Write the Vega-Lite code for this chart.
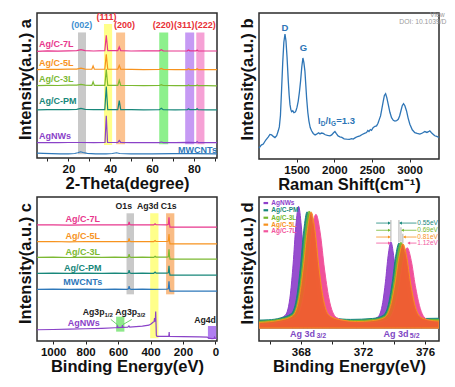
{
"$schema":"https://vega.github.io/schema/vega-lite/v6.json",
"padding":{"left":16,"top":11,"right":0,"bottom":0},
"config":{
 "font":"Liberation Sans",
 "view":{"stroke":"#2b2b2b","strokeWidth":1.5},
 "axis":{"labelFont":"Liberation Sans","labelFontWeight":"bold","labelColor":"#111","titleFont":"Liberation Sans","titleFontWeight":"bold","titleFontSize":16.5,"titleColor":"#111","grid":false,"domain":false,"tickColor":"#222"},
 "axisX":{"labelFontSize":11.5,"labelPadding":2,"titlePadding":1,"tickSize":3,"labelFlush":false,"labelOverlap":false,"format":"d"},
 "axisY":{"labels":false,"ticks":false,"titleY":66,"titlePadding":4},
 "text":{"font":"Liberation Sans","fontWeight":"bold","fontSize":9.5,"baseline":"middle"},
 "legend":{"disable":true}
},
"datasets":{
"a_bands":[
{"s":"b002","x":24.6,"x2":28.4,"y":2.6,"y2":86.6},
{"s":"b111","x":37.0,"x2":40.9,"y":9.0,"y2":92.4},
{"s":"b200","x":42.8,"x2":47.1,"y":9.5,"y2":86.6},
{"s":"b220","x":63.4,"x2":67.7,"y":9.5,"y2":86.6},
{"s":"b311","x":75.8,"x2":80.1,"y":9.5,"y2":86.6},
{"s":"b222","x":81.1,"x2":85.0,"y":9.5,"y2":86.6}],
"a_lines":[
{"s":"7L","x":5,"y":73.6},{"s":"7L","x":10,"y":73.9},{"s":"7L","x":15,"y":73.7},{"s":"7L","x":20,"y":73.9},{"s":"7L","x":24,"y":74.0},{"s":"7L","x":26,"y":74.7},{"s":"7L","x":28,"y":74.0},{"s":"7L","x":32,"y":73.8},{"s":"7L","x":37.4,"y":74.0},{"s":"7L","x":38.1,"y":84.7},{"s":"7L","x":38.8,"y":74.0},{"s":"7L","x":43.6,"y":74.0},{"s":"7L","x":44.3,"y":76.6},{"s":"7L","x":45,"y":74.0},{"s":"7L","x":50,"y":73.8},{"s":"7L","x":56,"y":73.9},{"s":"7L","x":63.5,"y":73.9},{"s":"7L","x":64.4,"y":74.7},{"s":"7L","x":65.3,"y":73.9},{"s":"7L","x":71,"y":73.8},{"s":"7L","x":76.8,"y":73.9},{"s":"7L","x":77.4,"y":74.5},{"s":"7L","x":78,"y":73.9},{"s":"7L","x":81,"y":73.9},{"s":"7L","x":81.5,"y":74.5},{"s":"7L","x":82,"y":73.9},{"s":"7L","x":86,"y":73.8},{"s":"7L","x":91,"y":73.8},
{"s":"5L","x":5,"y":61.0},{"s":"5L","x":10,"y":61.2},{"s":"5L","x":15,"y":61.1},{"s":"5L","x":20,"y":61.3},{"s":"5L","x":24,"y":61.3},{"s":"5L","x":26,"y":62.0},{"s":"5L","x":28,"y":61.3},{"s":"5L","x":31.2,"y":61.2},{"s":"5L","x":31.8,"y":63.5},{"s":"5L","x":32.4,"y":61.2},{"s":"5L","x":37.4,"y":61.2},{"s":"5L","x":38.1,"y":71.5},{"s":"5L","x":38.8,"y":61.2},{"s":"5L","x":43.6,"y":61.2},{"s":"5L","x":44.3,"y":63.9},{"s":"5L","x":45,"y":61.2},{"s":"5L","x":50,"y":61.1},{"s":"5L","x":56,"y":61.0},{"s":"5L","x":63.5,"y":61.1},{"s":"5L","x":64.4,"y":61.7},{"s":"5L","x":65.3,"y":61.1},{"s":"5L","x":71,"y":61.0},{"s":"5L","x":76.8,"y":61.0},{"s":"5L","x":77.4,"y":61.6},{"s":"5L","x":78,"y":61.0},{"s":"5L","x":81,"y":61.0},{"s":"5L","x":81.5,"y":61.6},{"s":"5L","x":82,"y":61.0},{"s":"5L","x":86,"y":61.0},{"s":"5L","x":91,"y":60.9},
{"s":"3L","x":5,"y":49.9},{"s":"3L","x":10,"y":50.1},{"s":"3L","x":15,"y":50.0},{"s":"3L","x":20,"y":50.2},{"s":"3L","x":24,"y":50.2},{"s":"3L","x":26,"y":50.8},{"s":"3L","x":28,"y":50.2},{"s":"3L","x":31.2,"y":50.1},{"s":"3L","x":31.8,"y":52.5},{"s":"3L","x":32.4,"y":50.1},{"s":"3L","x":37.4,"y":50.1},{"s":"3L","x":38.1,"y":61.1},{"s":"3L","x":38.8,"y":50.1},{"s":"3L","x":43.6,"y":50.1},{"s":"3L","x":44.3,"y":53.5},{"s":"3L","x":45,"y":50.1},{"s":"3L","x":50,"y":50.0},{"s":"3L","x":56,"y":49.9},{"s":"3L","x":63.5,"y":50.0},{"s":"3L","x":64.4,"y":50.6},{"s":"3L","x":65.3,"y":50.0},{"s":"3L","x":71,"y":49.9},{"s":"3L","x":76.8,"y":49.9},{"s":"3L","x":77.4,"y":50.4},{"s":"3L","x":78,"y":49.9},{"s":"3L","x":81,"y":49.9},{"s":"3L","x":81.5,"y":50.4},{"s":"3L","x":82,"y":49.9},{"s":"3L","x":86,"y":49.9},{"s":"3L","x":91,"y":49.8},
{"s":"PM","x":5,"y":33.2},{"s":"PM","x":10,"y":33.4},{"s":"PM","x":15,"y":33.3},{"s":"PM","x":20,"y":33.4},{"s":"PM","x":24,"y":33.5},{"s":"PM","x":26,"y":34.2},{"s":"PM","x":28,"y":33.5},{"s":"PM","x":32,"y":33.3},{"s":"PM","x":37.4,"y":33.4},{"s":"PM","x":38.1,"y":49.3},{"s":"PM","x":38.8,"y":33.4},{"s":"PM","x":43.6,"y":33.4},{"s":"PM","x":44.3,"y":39.6},{"s":"PM","x":45,"y":33.4},{"s":"PM","x":50,"y":33.3},{"s":"PM","x":56,"y":33.2},{"s":"PM","x":63.5,"y":33.3},{"s":"PM","x":64.4,"y":34.3},{"s":"PM","x":65.3,"y":33.3},{"s":"PM","x":71,"y":33.2},{"s":"PM","x":76.8,"y":33.3},{"s":"PM","x":77.4,"y":34.0},{"s":"PM","x":78,"y":33.3},{"s":"PM","x":81,"y":33.3},{"s":"PM","x":81.5,"y":34.0},{"s":"PM","x":82,"y":33.3},{"s":"PM","x":86,"y":33.2},{"s":"PM","x":91,"y":33.2},
{"s":"AgNWs","x":5,"y":10.6},{"s":"AgNWs","x":10,"y":10.7},{"s":"AgNWs","x":15,"y":10.6},{"s":"AgNWs","x":20,"y":10.7},{"s":"AgNWs","x":26,"y":10.7},{"s":"AgNWs","x":32,"y":10.6},{"s":"AgNWs","x":37.5,"y":10.7},{"s":"AgNWs","x":38.1,"y":29.2},{"s":"AgNWs","x":38.7,"y":10.7},{"s":"AgNWs","x":43.6,"y":10.7},{"s":"AgNWs","x":44.3,"y":12.0},{"s":"AgNWs","x":45,"y":10.7},{"s":"AgNWs","x":50,"y":10.6},{"s":"AgNWs","x":56,"y":10.6},{"s":"AgNWs","x":63.5,"y":10.6},{"s":"AgNWs","x":64.4,"y":11.0},{"s":"AgNWs","x":65.3,"y":10.6},{"s":"AgNWs","x":71,"y":10.6},{"s":"AgNWs","x":77.4,"y":10.8},{"s":"AgNWs","x":81,"y":10.6},{"s":"AgNWs","x":81.5,"y":11.3},{"s":"AgNWs","x":82,"y":10.6},{"s":"AgNWs","x":86,"y":10.6},{"s":"AgNWs","x":91,"y":10.6},
{"s":"MWCNTs","x":5,"y":3.4},{"s":"MWCNTs","x":8,"y":3.2},{"s":"MWCNTs","x":12,"y":3.0},{"s":"MWCNTs","x":16,"y":2.8},{"s":"MWCNTs","x":20,"y":2.8},{"s":"MWCNTs","x":23,"y":3.1},{"s":"MWCNTs","x":24.5,"y":3.6},{"s":"MWCNTs","x":25.8,"y":4.3},{"s":"MWCNTs","x":27,"y":3.8},{"s":"MWCNTs","x":29,"y":3.2},{"s":"MWCNTs","x":33,"y":2.9},{"s":"MWCNTs","x":38,"y":2.9},{"s":"MWCNTs","x":41,"y":3.1},{"s":"MWCNTs","x":43,"y":3.6},{"s":"MWCNTs","x":44.5,"y":3.1},{"s":"MWCNTs","x":50,"y":2.9},{"s":"MWCNTs","x":60,"y":2.9},{"s":"MWCNTs","x":70,"y":3.0},{"s":"MWCNTs","x":80,"y":3.0},{"s":"MWCNTs","x":91,"y":2.9}],
"a_lab":[
{"s":"7L","t":"Ag/C-7L","x":6,"y":78.3},{"s":"5L","t":"Ag/C-5L","x":6,"y":65.3},{"s":"3L","t":"Ag/C-3L","x":6,"y":54.2},{"s":"PM","t":"Ag/C-PM","x":6,"y":39.6},{"s":"AgNWs","t":"AgNWs","x":6,"y":15.3},{"s":"MWCNTs","t":"MWCNTs","x":72.4,"y":5.6}],
"a_pk":[
{"s":"blue","t":"(002)","x":26.4,"y":91.7},{"s":"red","t":"(111)","x":38.2,"y":97.2},{"s":"red","t":"(200)","x":46.8,"y":91.7},{"s":"red","t":"(220)","x":65.3,"y":91.7},{"s":"red","t":"(311)","x":75.3,"y":91.7},{"s":"red","t":"(222)","x":85.4,"y":91.7}],
"b_line":[
{"x":1000,"y":7.5},{"x":1030,"y":9.5},{"x":1057,"y":10.2},{"x":1090,"y":13},{"x":1124,"y":15.2},{"x":1145,"y":16.8},{"x":1168,"y":16.5},{"x":1190,"y":15.5},{"x":1212,"y":14.7},{"x":1235,"y":16},{"x":1256,"y":19.3},{"x":1270,"y":22},{"x":1285,"y":30},{"x":1301,"y":48.8},{"x":1315,"y":66},{"x":1330,"y":80},{"x":1345,"y":85.5},{"x":1358,"y":81},{"x":1372,"y":70},{"x":1389,"y":53.3},{"x":1400,"y":44},{"x":1411,"y":37.4},{"x":1422,"y":34},{"x":1433,"y":32.4},{"x":1448,"y":33},{"x":1464,"y":31.7},{"x":1478,"y":32},{"x":1490,"y":32.9},{"x":1505,"y":35.5},{"x":1521,"y":39.7},{"x":1537,"y":46},{"x":1552,"y":53.3},{"x":1568,"y":63},{"x":1583,"y":69.2},{"x":1596,"y":66},{"x":1610,"y":60},{"x":1621,"y":51},{"x":1632,"y":42},{"x":1648,"y":32},{"x":1663,"y":26},{"x":1680,"y":21.5},{"x":1698,"y":19.3},{"x":1720,"y":17.5},{"x":1745,"y":16.5},{"x":1765,"y":17},{"x":1790,"y":18},{"x":1810,"y":17.2},{"x":1830,"y":17.8},{"x":1853,"y":17.5},{"x":1880,"y":16.6},{"x":1910,"y":16.2},{"x":1942,"y":15.9},{"x":1965,"y":16.5},{"x":1990,"y":18},{"x":2008,"y":18.8},{"x":2025,"y":17.5},{"x":2050,"y":15.8},{"x":2074,"y":15.2},{"x":2100,"y":14.8},{"x":2130,"y":13.8},{"x":2163,"y":13.6},{"x":2200,"y":13.5},{"x":2230,"y":13.9},{"x":2251,"y":13.6},{"x":2280,"y":14.6},{"x":2310,"y":15.4},{"x":2340,"y":15.9},{"x":2370,"y":16.8},{"x":2400,"y":17.5},{"x":2428,"y":18.1},{"x":2445,"y":19.5},{"x":2460,"y":18.8},{"x":2478,"y":20.2},{"x":2494,"y":19.7},{"x":2515,"y":21.5},{"x":2540,"y":22.4},{"x":2561,"y":22.7},{"x":2580,"y":24.5},{"x":2600,"y":27.5},{"x":2614,"y":29.5},{"x":2630,"y":34},{"x":2650,"y":39.7},{"x":2665,"y":43.5},{"x":2681,"y":44.7},{"x":2697,"y":42},{"x":2716,"y":37.4},{"x":2738,"y":32},{"x":2760,"y":28.3},{"x":2783,"y":26.5},{"x":2805,"y":26},{"x":2827,"y":26.2},{"x":2849,"y":27.2},{"x":2867,"y":29.5},{"x":2884,"y":32.9},{"x":2902,"y":36.5},{"x":2919,"y":37.9},{"x":2937,"y":36.5},{"x":2959,"y":32.9},{"x":2980,"y":28},{"x":3003,"y":23.8},{"x":3035,"y":20},{"x":3069,"y":18.1},{"x":3100,"y":17.5},{"x":3136,"y":17},{"x":3170,"y":17.8},{"x":3202,"y":18.8},{"x":3230,"y":18.2},{"x":3250,"y":18.7},{"x":3268,"y":19.3},{"x":3290,"y":18},{"x":3315,"y":16.8},{"x":3334,"y":15.9},{"x":3360,"y":15.5},{"x":3390,"y":14.7}],
"b_dg":[{"t":"D","x":1345,"y":89.6},{"t":"G","x":1590,"y":76}],
"b_big":[{"t":"I","x":1782,"y":26},{"t":"/I","x":1884,"y":26},{"t":"=1.3","x":2026,"y":26}],
"b_small":[{"t":"D","x":1819,"y":23.8},{"t":"G","x":1957,"y":23.8}],
"b_wm":[{"t":"View","x":3466,"y":98.4},{"t":"DOI: 10.1039/D","x":3490,"y":93.9}],
"c_bands":[
{"s":"bO","x":548,"x2":502,"y":32.4,"y2":88.7},
{"s":"bAg3d","x":402,"x2":351,"y":1.9,"y2":88.7},
{"s":"bC","x":304,"x2":253,"y":32.4,"y2":88.7},
{"s":"bAg3p","x":612,"x2":561,"y":6.5,"y2":16.9},
{"s":"bAg4d","x":46,"x2":-5,"y":1.4,"y2":10.4}],
"c_lines":[
{"s":"7L","x":1100,"y":80.6},{"s":"7L","x":1000,"y":80.7},{"s":"7L","x":900,"y":80.5},{"s":"7L","x":800,"y":80.7},{"s":"7L","x":700,"y":80.6},{"s":"7L","x":620,"y":80.7},{"s":"7L","x":545,"y":80.6},{"s":"7L","x":536,"y":80.9},{"s":"7L","x":532,"y":82.8},{"s":"7L","x":528,"y":80.9},{"s":"7L","x":520,"y":80.6},{"s":"7L","x":450,"y":80.7},{"s":"7L","x":380,"y":80.6},{"s":"7L","x":372,"y":81.4},{"s":"7L","x":366,"y":80.8},{"s":"7L","x":300,"y":80.7},{"s":"7L","x":290,"y":81.0},{"s":"7L","x":286,"y":85.9},{"s":"7L","x":283,"y":81.4},{"s":"7L","x":280,"y":79.1},{"s":"7L","x":200,"y":79.1},{"s":"7L","x":100,"y":79.1},{"s":"7L","x":0,"y":79.1},{"s":"7L","x":-10,"y":79.1},
{"s":"5L","x":1100,"y":69.0},{"s":"5L","x":1000,"y":69.1},{"s":"5L","x":900,"y":68.9},{"s":"5L","x":800,"y":69.1},{"s":"5L","x":700,"y":69.0},{"s":"5L","x":620,"y":69.1},{"s":"5L","x":545,"y":69.0},{"s":"5L","x":536,"y":69.3},{"s":"5L","x":532,"y":71.2},{"s":"5L","x":528,"y":69.3},{"s":"5L","x":520,"y":69.0},{"s":"5L","x":450,"y":69.1},{"s":"5L","x":380,"y":69.0},{"s":"5L","x":372,"y":69.8},{"s":"5L","x":366,"y":69.2},{"s":"5L","x":300,"y":69.1},{"s":"5L","x":290,"y":69.4},{"s":"5L","x":286,"y":74.3},{"s":"5L","x":283,"y":69.8},{"s":"5L","x":280,"y":67.5},{"s":"5L","x":200,"y":67.5},{"s":"5L","x":100,"y":67.5},{"s":"5L","x":0,"y":67.5},{"s":"5L","x":-10,"y":67.5},
{"s":"3L","x":1100,"y":58.1},{"s":"3L","x":1000,"y":58.2},{"s":"3L","x":900,"y":58.0},{"s":"3L","x":800,"y":58.2},{"s":"3L","x":700,"y":58.1},{"s":"3L","x":620,"y":58.2},{"s":"3L","x":545,"y":58.1},{"s":"3L","x":536,"y":58.4},{"s":"3L","x":532,"y":60.3},{"s":"3L","x":528,"y":58.4},{"s":"3L","x":520,"y":58.1},{"s":"3L","x":450,"y":58.2},{"s":"3L","x":380,"y":58.1},{"s":"3L","x":372,"y":58.9},{"s":"3L","x":366,"y":58.3},{"s":"3L","x":300,"y":58.2},{"s":"3L","x":290,"y":58.5},{"s":"3L","x":286,"y":63.6},{"s":"3L","x":283,"y":58.9},{"s":"3L","x":280,"y":56.9},{"s":"3L","x":200,"y":56.9},{"s":"3L","x":100,"y":56.9},{"s":"3L","x":0,"y":56.9},{"s":"3L","x":-10,"y":56.9},
{"s":"PM","x":1100,"y":47.0},{"s":"PM","x":1000,"y":47.1},{"s":"PM","x":900,"y":46.9},{"s":"PM","x":800,"y":47.1},{"s":"PM","x":700,"y":47.0},{"s":"PM","x":620,"y":47.1},{"s":"PM","x":545,"y":47.0},{"s":"PM","x":536,"y":47.3},{"s":"PM","x":532,"y":49.2},{"s":"PM","x":528,"y":47.3},{"s":"PM","x":520,"y":47.0},{"s":"PM","x":450,"y":47.1},{"s":"PM","x":380,"y":47.0},{"s":"PM","x":372,"y":47.8},{"s":"PM","x":366,"y":47.2},{"s":"PM","x":300,"y":47.1},{"s":"PM","x":290,"y":47.4},{"s":"PM","x":286,"y":52.3},{"s":"PM","x":283,"y":47.8},{"s":"PM","x":280,"y":45.8},{"s":"PM","x":200,"y":45.8},{"s":"PM","x":100,"y":45.8},{"s":"PM","x":0,"y":45.8},{"s":"PM","x":-10,"y":45.8},
{"s":"MWCNTs","x":1100,"y":35.9},{"s":"MWCNTs","x":1000,"y":36.0},{"s":"MWCNTs","x":900,"y":35.8},{"s":"MWCNTs","x":800,"y":36.0},{"s":"MWCNTs","x":700,"y":35.9},{"s":"MWCNTs","x":620,"y":36.0},{"s":"MWCNTs","x":545,"y":35.9},{"s":"MWCNTs","x":536,"y":36.2},{"s":"MWCNTs","x":532,"y":38.1},{"s":"MWCNTs","x":528,"y":36.2},{"s":"MWCNTs","x":520,"y":35.9},{"s":"MWCNTs","x":450,"y":36.0},{"s":"MWCNTs","x":380,"y":35.9},{"s":"MWCNTs","x":300,"y":36.0},{"s":"MWCNTs","x":290,"y":36.3},{"s":"MWCNTs","x":286,"y":41.5},{"s":"MWCNTs","x":283,"y":36.7},{"s":"MWCNTs","x":280,"y":34.7},{"s":"MWCNTs","x":200,"y":34.7},{"s":"MWCNTs","x":100,"y":34.7},{"s":"MWCNTs","x":0,"y":34.7},{"s":"MWCNTs","x":-10,"y":34.7},
{"s":"AgNWs","x":1100,"y":7.8},{"s":"AgNWs","x":1000,"y":8.0},{"s":"AgNWs","x":900,"y":8.2},{"s":"AgNWs","x":800,"y":8.5},{"s":"AgNWs","x":700,"y":8.8},{"s":"AgNWs","x":620,"y":9.2},{"s":"AgNWs","x":606,"y":9.3},{"s":"AgNWs","x":604,"y":10.9},{"s":"AgNWs","x":601,"y":9.3},{"s":"AgNWs","x":580,"y":9.4},{"s":"AgNWs","x":575,"y":9.4},{"s":"AgNWs","x":573,"y":11.1},{"s":"AgNWs","x":570,"y":9.5},{"s":"AgNWs","x":540,"y":9.6},{"s":"AgNWs","x":533,"y":10.5},{"s":"AgNWs","x":528,"y":9.7},{"s":"AgNWs","x":450,"y":10.3},{"s":"AgNWs","x":410,"y":11.0},{"s":"AgNWs","x":395,"y":12.0},{"s":"AgNWs","x":385,"y":13.0},{"s":"AgNWs","x":378,"y":13.4},{"s":"AgNWs","x":375,"y":16.0},{"s":"AgNWs","x":373,"y":13.6},{"s":"AgNWs","x":370,"y":14.5},{"s":"AgNWs","x":368,"y":20.5},{"s":"AgNWs","x":366,"y":12.0},{"s":"AgNWs","x":364,"y":4.0},{"s":"AgNWs","x":360,"y":3.2},{"s":"AgNWs","x":300,"y":3.2},{"s":"AgNWs","x":287,"y":3.3},{"s":"AgNWs","x":285,"y":6.2},{"s":"AgNWs","x":283,"y":3.2},{"s":"AgNWs","x":200,"y":3.0},{"s":"AgNWs","x":100,"y":2.9},{"s":"AgNWs","x":50,"y":2.7},{"s":"AgNWs","x":42,"y":2.0},{"s":"AgNWs","x":20,"y":1.6},{"s":"AgNWs","x":8,"y":1.7},{"s":"AgNWs","x":5,"y":2.6},{"s":"AgNWs","x":2,"y":1.9},{"s":"AgNWs","x":-10,"y":1.9}],
"c_lab":[
{"s":"7L","t":"Ag/C-7L","x":818,"y":84.7},{"s":"5L","t":"Ag/C-5L","x":818,"y":73.1},{"s":"3L","t":"Ag/C-3L","x":818,"y":62},{"s":"PM","t":"Ag/C-PM","x":818,"y":50.9},{"s":"MWCNTs","t":"MWCNTs","x":818,"y":40.7},{"s":"AgNWs","t":"AgNWs","x":812,"y":12.3}],
"c_pk":[{"s":"k","t":"O1s","x":565,"y":94},{"s":"k","t":"Ag3d","x":417,"y":94},{"s":"k","t":"C1s","x":288,"y":94},{"s":"k","t":"Ag4d","x":64,"y":14.6}],
"c_ag3p":[{"s":"k","t":"Ag3p","x":818,"y":20.4},{"s":"k","t":"Ag3p","x":617,"y":20.4}],
"c_sub":[{"s":"k","t":"1/2","x":684,"y":18.4},{"s":"k","t":"3/2","x":483,"y":18.4}],
"c_conn":[{"s":"g","x":645,"x2":603,"y":15,"y2":11.2},{"s":"g","x":515,"x2":570,"y":15,"y2":11.4}],
"d_areas":[
{"s":"AgNWs","x":365.3,"y":13.0},{"s":"AgNWs","x":365.8,"y":13.3},{"s":"AgNWs","x":366.45,"y":14.9},{"s":"AgNWs","x":367.01,"y":18.1},{"s":"AgNWs","x":367.325,"y":32.7},{"s":"AgNWs","x":367.5,"y":53.5},{"s":"AgNWs","x":367.675,"y":79.9},{"s":"AgNWs","x":367.85,"y":93.5},{"s":"AgNWs","x":368.025,"y":79.9},{"s":"AgNWs","x":368.2,"y":53.5},{"s":"AgNWs","x":368.375,"y":32.7},{"s":"AgNWs","x":368.69,"y":18.1},{"s":"AgNWs","x":369.25,"y":14.9},{"s":"AgNWs","x":370.5,"y":14.0},{"s":"AgNWs","x":371.5,"y":13.8},{"s":"AgNWs","x":372.4,"y":14.5},{"s":"AgNWs","x":372.96,"y":16.65},{"s":"AgNWs","x":373.275,"y":26.8},{"s":"AgNWs","x":373.45,"y":41.15},{"s":"AgNWs","x":373.625,"y":59.4},{"s":"AgNWs","x":373.8,"y":68.8},{"s":"AgNWs","x":373.975,"y":59.4},{"s":"AgNWs","x":374.15,"y":41.15},{"s":"AgNWs","x":374.325,"y":26.8},{"s":"AgNWs","x":374.64,"y":16.65},{"s":"AgNWs","x":375.2,"y":14.5},{"s":"AgNWs","x":376.2,"y":14.5},{"s":"AgNWs","x":376.9,"y":14.8},
{"s":"PM","x":365.3,"y":14.5},{"s":"PM","x":365.9,"y":14.7},{"s":"PM","x":366.7,"y":16.05},{"s":"PM","x":367.38,"y":18.98},{"s":"PM","x":367.7625,"y":32.7},{"s":"PM","x":367.975,"y":52.2},{"s":"PM","x":368.1875,"y":76.95},{"s":"PM","x":368.4,"y":89.7},{"s":"PM","x":368.6125,"y":76.95},{"s":"PM","x":368.825,"y":52.2},{"s":"PM","x":369.0375,"y":32.7},{"s":"PM","x":369.42,"y":18.98},{"s":"PM","x":370.1,"y":16.05},{"s":"PM","x":371.2,"y":15.0},{"s":"PM","x":372.62,"y":15.66},{"s":"PM","x":373.3,"y":17.74},{"s":"PM","x":373.6825,"y":27.5},{"s":"PM","x":373.895,"y":41.35},{"s":"PM","x":374.1075,"y":58.9},{"s":"PM","x":374.32,"y":68},{"s":"PM","x":374.5325,"y":58.9},{"s":"PM","x":374.745,"y":41.35},{"s":"PM","x":374.9575,"y":27.5},{"s":"PM","x":375.34,"y":17.74},{"s":"PM","x":376.02,"y":15.66},{"s":"PM","x":376.9,"y":15.8},
{"s":"3L","x":365.3,"y":13.6},{"s":"3L","x":366.74,"y":15.28},{"s":"3L","x":367.46,"y":18.25},{"s":"3L","x":367.865,"y":32.2},{"s":"3L","x":368.09,"y":52.1},{"s":"3L","x":368.315,"y":77.3},{"s":"3L","x":368.54,"y":90.3},{"s":"3L","x":368.765,"y":77.3},{"s":"3L","x":368.99,"y":52.1},{"s":"3L","x":369.215,"y":32.2},{"s":"3L","x":369.62,"y":18.25},{"s":"3L","x":370.34,"y":15.28},{"s":"3L","x":371.4,"y":14.2},{"s":"3L","x":372.65,"y":14.88},{"s":"3L","x":373.37,"y":17.01},{"s":"3L","x":373.775,"y":27.0},{"s":"3L","x":374.0,"y":41.2},{"s":"3L","x":374.225,"y":59.2},{"s":"3L","x":374.45,"y":68.5},{"s":"3L","x":374.675,"y":59.2},{"s":"3L","x":374.9,"y":41.2},{"s":"3L","x":375.125,"y":27.0},{"s":"3L","x":375.53,"y":17.01},{"s":"3L","x":376.25,"y":14.88},{"s":"3L","x":376.9,"y":14.8},
{"s":"7L","x":365.3,"y":11.5},{"s":"7L","x":366.0,"y":11.8},{"s":"7L","x":366.77,"y":13.37},{"s":"7L","x":367.65,"y":16.33},{"s":"7L","x":368.145,"y":30.24},{"s":"7L","x":368.42,"y":50},{"s":"7L","x":368.695,"y":75.1},{"s":"7L","x":368.97,"y":88},{"s":"7L","x":369.245,"y":75.1},{"s":"7L","x":369.52,"y":50},{"s":"7L","x":369.795,"y":30.24},{"s":"7L","x":370.29,"y":16.33},{"s":"7L","x":371.17,"y":13.37},{"s":"7L","x":371.9,"y":12.6},{"s":"7L","x":372.75,"y":12.95},{"s":"7L","x":373.59,"y":15.0},{"s":"7L","x":374.0625,"y":24.67},{"s":"7L","x":374.325,"y":38.4},{"s":"7L","x":374.5875,"y":55.8},{"s":"7L","x":374.85,"y":64.8},{"s":"7L","x":375.1125,"y":55.8},{"s":"7L","x":375.375,"y":38.4},{"s":"7L","x":375.6375,"y":24.67},{"s":"7L","x":376.11,"y":15.0},{"s":"7L","x":376.9,"y":13.0},
{"s":"5L","x":365.3,"y":12.9},{"s":"5L","x":366.66,"y":14.48},{"s":"5L","x":367.46,"y":17.46},{"s":"5L","x":367.91,"y":31.46},{"s":"5L","x":368.16,"y":51.35},{"s":"5L","x":368.41,"y":76.6},{"s":"5L","x":368.66,"y":89.6},{"s":"5L","x":368.91,"y":76.6},{"s":"5L","x":369.16,"y":51.35},{"s":"5L","x":369.41,"y":31.46},{"s":"5L","x":369.86,"y":17.46},{"s":"5L","x":370.66,"y":14.48},{"s":"5L","x":371.6,"y":13.5},{"s":"5L","x":372.57,"y":14.08},{"s":"5L","x":373.37,"y":16.2},{"s":"5L","x":373.82,"y":26.16},{"s":"5L","x":374.07,"y":40.3},{"s":"5L","x":374.32,"y":58.25},{"s":"5L","x":374.57,"y":67.5},{"s":"5L","x":374.82,"y":58.25},{"s":"5L","x":375.07,"y":40.3},{"s":"5L","x":375.32,"y":26.16},{"s":"5L","x":375.77,"y":16.2},{"s":"5L","x":376.57,"y":14.08},{"s":"5L","x":376.9,"y":13.9}],
"d_leg":[{"s":"AgNWs","t":"AgNWs","x":365.74,"y":95.8},{"s":"PM","t":"Ag/C-PM","x":365.74,"y":90.8},{"s":"3L","t":"Ag/C-3L","x":365.74,"y":85.6},{"s":"5L","t":"Ag/C-5L","x":365.74,"y":80.8},{"s":"7L","t":"Ag/C-7L","x":365.74,"y":76.2}],
"d_vr":[{"s":"gray","x":373.8,"y":69,"y2":84},{"s":"gray","x":374.32,"y":68.5,"y2":84},{"s":"gray","x":374.45,"y":69,"y2":79},{"s":"gray","x":374.57,"y":68,"y2":74.5}],
"d_hr":[
{"s":"PM","x":372.85,"x2":373.72,"y":81.9},{"s":"PM","x":375.45,"x2":374.4,"y":81.9},
{"s":"3L","x":372.85,"x2":373.72,"y":76.9},{"s":"3L","x":375.45,"x2":374.53,"y":76.9},
{"s":"5L","x":372.85,"x2":373.72,"y":72.2},{"s":"5L","x":375.45,"x2":374.65,"y":72.2},
{"s":"7L","x":372.85,"x2":373.72,"y":68.0},{"s":"7L","x":375.45,"x2":374.93,"y":68.0}],
"d_tr":[{"s":"PM","x":373.7,"y":81.9},{"s":"3L","x":373.7,"y":76.9},{"s":"5L","x":373.7,"y":72.2},{"s":"7L","x":373.7,"y":68.0}],
"d_tl":[{"s":"PM","x":374.42,"y":81.9},{"s":"3L","x":374.55,"y":76.9},{"s":"5L","x":374.67,"y":72.2},{"s":"7L","x":374.95,"y":68.0}],
"d_ev":[{"s":"PM","t":"0.55eV","x":375.5,"y":81.9},{"s":"3L","t":"0.69eV","x":375.5,"y":76.9},{"s":"5L","t":"0.81eV","x":375.5,"y":72.2},{"s":"7L","t":"1.12eV","x":375.5,"y":68.0}],
"d_lbl":[{"s":"lbl","t":"Ag 3d","x":367.3,"y":5.1},{"s":"lbl","t":"Ag 3d","x":373.32,"y":5.1}],
"d_sub":[{"s":"lbl","t":"3/2","x":369.0,"y":3.3},{"s":"lbl","t":"5/2","x":375.02,"y":3.3}]
},
"resolve":{"scale":{"color":"independent","x":"independent","y":"independent"}},
"spacing":2,
"vconcat":[
{"hconcat":[
 {"width":180,"height":145,
  "encoding":{
   "x":{"field":"x","type":"quantitative","scale":{"domain":[5,91],"nice":false,"zero":false},"axis":{"title":"2-Theta(degree)","values":[10,20,30,40,50,60,70,80,90],"labelExpr":"datum.value % 20 === 0 ? datum.label : ''"}},
   "y":{"field":"y","type":"quantitative","stack":null,"scale":{"domain":[0,100],"nice":false,"zero":false},"axis":{"title":"Intensity(a.u.) a"}},
   "color":{"field":"s","type":"nominal","legend":null,"scale":{"domain":["7L","5L","3L","PM","AgNWs","MWCNTs","b002","b111","b200","b220","b311","b222","red","blue"],"range":["#E8378D","#F7931E","#7CB932","#17877A","#8A42C8","#2E78BA","#C9C9C9","#FFFF8A","#FCC390","#8DF08C","#C69AF4","#F6A1D5","#E83036","#3E8FD0"]}}},
  "layer":[
   {"data":{"name":"a_bands"},"mark":{"type":"rect"},"encoding":{"x2":{"field":"x2"},"y2":{"field":"y2"}}},
   {"data":{"name":"a_lines"},"mark":{"type":"line","strokeWidth":1.2}},
   {"data":{"name":"a_lab"},"mark":{"type":"text","align":"left","fontSize":9},"encoding":{"text":{"field":"t"}}},
   {"data":{"name":"a_pk"},"mark":{"type":"text","align":"center","fontSize":9},"encoding":{"text":{"field":"t"}}}
  ]},
 {"width":180,"height":146,
  "encoding":{
   "x":{"field":"x","type":"quantitative","scale":{"domain":[1000,3390],"nice":false,"zero":false},"axis":{"title":"Raman Shift(cm⁻¹)","values":[1500,2000,2500,3000]}},
   "y":{"field":"y","type":"quantitative","scale":{"domain":[0,100],"nice":false,"zero":false},"axis":{"title":"Intensity(a.u.) b"}}},
  "layer":[
   {"data":{"name":"b_line"},"mark":{"type":"line","strokeWidth":1.3,"color":"#2E75B6"}},
   {"data":{"name":"b_dg"},"mark":{"type":"text","align":"center","color":"#2E75B6"},"encoding":{"text":{"field":"t"}}},
   {"data":{"name":"b_big"},"mark":{"type":"text","align":"left","color":"#2E75B6"},"encoding":{"text":{"field":"t"}}},
   {"data":{"name":"b_small"},"mark":{"type":"text","align":"left","fontSize":6.5,"color":"#2E75B6"},"encoding":{"text":{"field":"t"}}},
   {"data":{"name":"b_wm"},"mark":{"type":"text","align":"right","fontSize":6.8,"fontWeight":"normal","color":"#9a9a9a"},"encoding":{"text":{"field":"t"}}}
  ]}
 ],"spacing":17,"resolve":{"scale":{"color":"independent","x":"independent","y":"independent"}}},
{"hconcat":[
 {"width":180,"height":144,
  "encoding":{
   "x":{"field":"x","type":"quantitative","scale":{"domain":[1100,-10],"nice":false,"zero":false},"axis":{"title":"Binding Energy(eV)","values":[1000,800,600,400,200,0]}},
   "y":{"field":"y","type":"quantitative","stack":null,"scale":{"domain":[0,100],"nice":false,"zero":false},"axis":{"title":"Intensity(a.u.) c"}},
   "color":{"field":"s","type":"nominal","legend":null,"scale":{"domain":["7L","5L","3L","PM","MWCNTs","AgNWs","bO","bAg3d","bC","bAg3p","bAg4d","k","g"],"range":["#E8378D","#F7931E","#7CB932","#17877A","#2E78BA","#8A42C8","#C9C9C9","#FFFF8A","#F9BC85","#8EE88A","#B07EF0","#222222","#4CC24C"]}}},
  "layer":[
   {"data":{"name":"c_bands"},"mark":{"type":"rect"},"encoding":{"x2":{"field":"x2"},"y2":{"field":"y2"}}},
   {"data":{"name":"c_lines"},"mark":{"type":"line","strokeWidth":1.2}},
   {"data":{"name":"c_conn"},"mark":{"type":"rule","strokeWidth":0.8},"encoding":{"x2":{"field":"x2"},"y2":{"field":"y2"}}},
   {"data":{"name":"c_lab"},"mark":{"type":"text","align":"center","fontSize":9},"encoding":{"text":{"field":"t"}}},
   {"data":{"name":"c_pk"},"mark":{"type":"text","align":"center","fontSize":8.7},"encoding":{"text":{"field":"t"}}},
   {"data":{"name":"c_ag3p"},"mark":{"type":"text","align":"left","fontSize":8.7},"encoding":{"text":{"field":"t"}}},
   {"data":{"name":"c_sub"},"mark":{"type":"text","align":"left","fontSize":6},"encoding":{"text":{"field":"t"}}}
  ]},
 {"width":180,"height":144,
  "encoding":{
   "x":{"field":"x","type":"quantitative","scale":{"domain":[365.3,376.9],"nice":false,"zero":false},"axis":{"title":"Binding Energy(eV)","values":[366,368,370,372,374,376],"labelExpr":"datum.value % 4 === 0 ? datum.label : ''"}},
   "y":{"field":"y","type":"quantitative","stack":null,"scale":{"domain":[0,100],"nice":false,"zero":false},"axis":{"title":"Intensity(a.u.) d"}},
   "color":{"field":"s","type":"nominal","legend":null,"scale":{"domain":["7L","5L","3L","PM","AgNWs","gray","lbl"],"range":["#F2559D","#F7921E","#74B82E","#17877A","#8E3FCB","#999999","#7E48C4"]}}},
  "layer":[
   {"data":{"name":"d_areas"},"mark":{"type":"area","interpolate":"monotone","strokeWidth":1,"clip":true},"encoding":{"y2":{"datum":9},
     "fill":{"field":"s","type":"nominal","legend":null,"scale":{"domain":["AgNWs","PM","3L","7L","5L"],"range":["#8E3FCB","#17877A","#74B82E","#EE3F8E","#F0602A"]}},
     "stroke":{"field":"s","type":"nominal","legend":null,"scale":{"domain":["AgNWs","PM","3L","7L","5L"],"range":["#8E3FCB","#17877A","#74B82E","#F2559D","#F7921E"]}},
     "fillOpacity":{"field":"s","type":"nominal","legend":null,"scale":{"domain":["AgNWs","PM","3L","7L","5L"],"range":[0.92,0.9,0.85,0.85,0.7]}}}},
   {"data":{"name":"d_vr"},"mark":{"type":"rule","strokeWidth":0.8},"encoding":{"y2":{"field":"y2"}}},
   {"data":{"name":"d_hr"},"mark":{"type":"rule","strokeWidth":0.8},"encoding":{"x2":{"field":"x2"}}},
   {"data":{"name":"d_tr"},"mark":{"type":"point","shape":"triangle-right","filled":true,"size":10,"opacity":1}},
   {"data":{"name":"d_tl"},"mark":{"type":"point","shape":"triangle-left","filled":true,"size":10,"opacity":1}},
   {"data":{"name":"d_ev"},"mark":{"type":"text","align":"left","fontSize":6.5,"fontWeight":"normal"},"encoding":{"text":{"field":"t"}}},
   {"data":{"name":"d_leg"},"mark":{"type":"point","shape":"M-1.15,-0.55H1.15V0.55H-1.15Z","filled":true,"size":16,"opacity":1}},
   {"data":{"name":"d_leg"},"mark":{"type":"text","align":"left","fontSize":6.5,"dx":5.5},"encoding":{"text":{"field":"t"}}},
   {"data":{"name":"d_lbl"},"mark":{"type":"text","align":"left","fontSize":9},"encoding":{"text":{"field":"t"}}},
   {"data":{"name":"d_sub"},"mark":{"type":"text","align":"left","fontSize":7},"encoding":{"text":{"field":"t"}}}
  ]}
 ],"spacing":17,"resolve":{"scale":{"color":"independent","x":"independent","y":"independent"}}}
]
}
